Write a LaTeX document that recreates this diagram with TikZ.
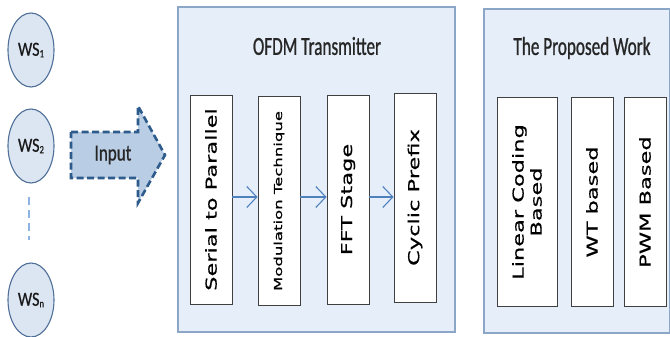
\documentclass[tikz,border=0pt]{standalone}
\usepackage{fontspec}
\usetikzlibrary{shapes.geometric,arrows.meta}
\newfontfamily\titlef[FakeStretch=0.66,FakeBold=0.8]{Carlito}
\newfontfamily\wsf[FakeStretch=0.8,FakeBold=0.6]{Carlito}
\newfontfamily\inputf[FakeStretch=0.74,FakeBold=0.6]{Carlito}
\newfontfamily\boxf[FakeStretch=1.5,FakeBold=0.6]{DejaVu Sans}
\definecolor{contfill}{HTML}{E5EEF9}
\definecolor{contdraw}{HTML}{8CA6C8}
\definecolor{wsfill}{HTML}{DCE6F2}
\definecolor{wsdraw}{HTML}{4F6F98}
\definecolor{arrfill}{HTML}{B9CDE5}
\definecolor{arrdraw}{HTML}{2D5B8C}
\definecolor{flow}{HTML}{4F81BD}
\definecolor{dots}{HTML}{8DB3E2}
\newcommand{\wssub}[1]{\raisebox{-1.5pt}{\fontsize{11}{12}\selectfont #1}}
\tikzset{
  cont/.style={draw=contdraw, fill=contfill, line width=1.4pt, inner sep=0pt},
  inbox/.style={draw=black!75, fill=white, line width=0.9pt, inner sep=0pt, rotate=90,
    minimum width=209pt, align=center},
  wsnode/.style={ellipse, draw=wsdraw, fill=wsfill, line width=1.1pt, inner sep=0pt,
    minimum width=46pt, minimum height=74pt, font=\wsf\fontsize{20}{22}\selectfont, text=black!90},
  title/.style={font=\titlef\fontsize{26}{28}\selectfont, text=black!85},
  bigtxt/.style={font=\boxf\fontsize{15}{18}\selectfont},
  flowarrow/.style={draw=flow, line width=1.1pt, -{Straight Barb[length=10pt,width=21pt]}},
  inarrow/.style={draw=arrdraw, fill=arrfill, line width=2.6pt, dash pattern=on 7pt off 3.5pt}
}
\begin{document}
\begin{tikzpicture}[x=1pt,y=-1pt]
\useasboundingbox (0,0) rectangle (670,337);
% work stations
\node[wsnode] (ws1) at (31,50) {WS\wssub{1}};
\node[wsnode] (ws2) at (31,146) {WS\wssub{2}};
\node[wsnode] (wsn) at (31,300) {WS\wssub{n}};
\coordinate (dtop) at (29,197);
\coordinate (dbot) at (29,240);
\draw[draw=dots, line width=1.3pt, dash pattern=on 8pt off 5pt] (dtop) -- (dbot);
% input arrow
\draw[inarrow] (71,132) -- (138,132) -- (138,106) -- (165,155) -- (138,203) -- (138,178) -- (71,178) -- cycle;
\node[font=\inputf\fontsize{23}{25}\selectfont, text=black!85] (input) at (113,155) {Input};
% OFDM transmitter
\node[cont, minimum width=277pt, minimum height=325pt] (ofdm) at (316.5,169.5) {};
\node[title] (ofdmt) at (317,46) {OFDM Transmitter};
\node[inbox, minimum height=42pt, bigtxt] (b1) at (211,199.5) {Serial to Parallel};
\node[inbox, minimum height=42pt, font=\boxf\fontsize{11}{13}\selectfont] (b2) at (279,201) {Modulation Technique};
\node[inbox, minimum height=42pt, bigtxt] (b3) at (348,199.5) {FFT Stage};
\node[inbox, minimum height=42pt, bigtxt] (b4) at (415,197.5) {Cyclic Prefix};
\coordinate (ay) at (0,197);
\draw[flowarrow] (b1.south |- ay) -- (b2.north |- ay);
\draw[flowarrow] (b2.south |- ay) -- (b3.north |- ay);
\draw[flowarrow] (b3.south |- ay) -- (b4.north |- ay);
% proposed work
\node[cont, minimum width=186pt, minimum height=324pt] (prop) at (577,171) {};
\node[title] (propt) at (582,48) {The Proposed Work};
\node[inbox, minimum height=60pt, bigtxt] (p1) at (527,202) {Linear Coding\\Based};
\node[inbox, minimum height=42pt, bigtxt] (p2) at (592,202) {WT based};
\node[inbox, minimum height=42pt, bigtxt] (p3) at (645,202) {PWM Based};
\end{tikzpicture}
\end{document}
